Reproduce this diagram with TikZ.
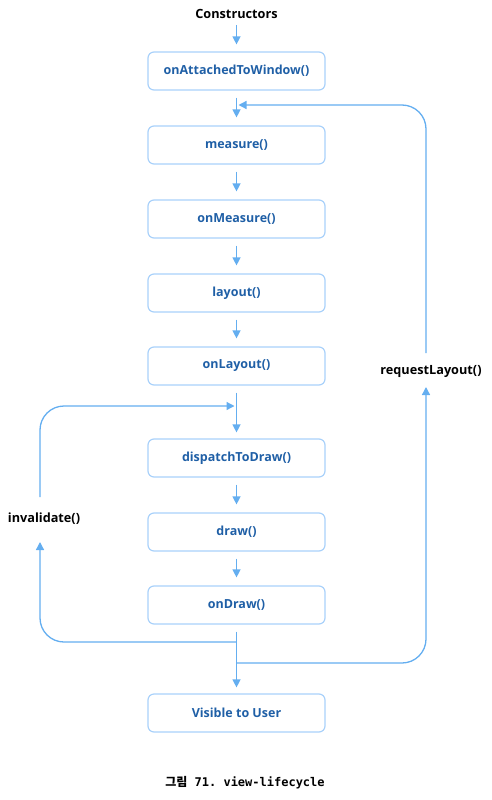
\documentclass[tikz,border=0pt]{standalone}
\usepackage{fontspec}
\setmainfont{Open Sans}
\newfontfamily\krfont{Noto Sans CJK KR}
\newfontfamily\capmono{DejaVu Sans Mono}
\usetikzlibrary{arrows.meta}

\definecolor{flowblue}{HTML}{64AEF0}
\definecolor{boxedge}{HTML}{A9D1FA}
\definecolor{boxtext}{HTML}{1F5FA6}

\tikzset{
  stepbox/.style={draw=boxedge, line width=1.2pt, rounded corners=6pt,
    minimum width=177pt, minimum height=38pt, inner sep=0pt,
    text=boxtext, font=\bfseries\fontsize{12.5}{14}\selectfont},
  sidelabel/.style={text=black, inner sep=0pt, font=\bfseries\fontsize{12.7}{14}\selectfont},
  flowline/.style={draw=flowblue, line width=1.3pt},
  flowarrow/.style={flowline, -{Triangle[length=8pt,width=8pt]}},
  loop/.style={flowarrow, rounded corners=24pt},
}

\begin{document}
\begin{tikzpicture}[x=1pt,y=-1pt]
\useasboundingbox (0,0) rectangle (492,800);

% lifecycle steps
\node[sidelabel] (ctor) at (236.5,14) {Constructors};
\node[stepbox] (attach)   at (236.5,71)  {onAttachedToWindow()};
\node[stepbox] (measure)  at (236.5,145) {measure()};
\node[stepbox] (onmeas)   at (236.5,219) {onMeasure()};
\node[stepbox] (layout)   at (236.5,293) {layout()};
\node[stepbox] (onlayout) at (236.5,366) {onLayout()};
\node[stepbox] (dispatch) at (236.5,458) {dispatchToDraw()};
\node[stepbox] (draw)     at (236.5,532) {draw()};
\node[stepbox] (ondraw)   at (236.5,605) {onDraw()};
\node[stepbox] (visible)  at (236.5,713) {Visible to User};

% loop labels
\node[sidelabel] (reqlayout) at (431,371) {requestLayout()};
\node[sidelabel] (invalid)   at (44,519)  {invalidate()};

% junctions on the main flow and ends of the loops
\coordinate (jq) at (236.5,105);
\coordinate (ji) at (236.5,406);
\coordinate (jl) at (236.5,642);
\coordinate (jr) at (236.5,663);
\coordinate (rqin)  at (426,387);
\coordinate (rqout) at (426,353);
\coordinate (ivin)  at (40,542);
\coordinate (ivout) at (40,497);

% main flow
\draw[flowarrow] ([yshift=-6pt]ctor.south) -- ([yshift=7pt]attach.north);
\draw[flowarrow] ([yshift=-7pt]attach.south) -- ([yshift=8pt]measure.north);
\draw[flowarrow] ([yshift=-7pt]measure.south) -- ([yshift=8pt]onmeas.north);
\draw[flowarrow] ([yshift=-7pt]onmeas.south) -- ([yshift=8pt]layout.north);
\draw[flowarrow] ([yshift=-7pt]layout.south) -- ([yshift=8pt]onlayout.north);
\draw[flowarrow] ([yshift=-7pt]onlayout.south) -- ([yshift=6pt]dispatch.north);
\draw[flowarrow] ([yshift=-7pt]dispatch.south) -- ([yshift=8pt]draw.north);
\draw[flowarrow] ([yshift=-7pt]draw.south) -- ([yshift=8pt]ondraw.north);
\draw[flowarrow] ([yshift=-7pt]ondraw.south) -- ([yshift=6pt]visible.north);

% requestLayout() loop
\draw[loop] (jr) -| (rqin);
\draw[loop] (rqout) |- ([xshift=2pt]jq);

% invalidate() loop
\draw[loop] (jl) -| (ivin);
\draw[loop] (ivout) |- ([xshift=-2pt]ji);

% caption
\node[inner sep=0pt, font=\bfseries\fontsize{12}{14}\selectfont] (caption) at (245,783)
  {\frenchspacing{\krfont 그림}\capmono\ 71.\ view-lifecycle};
\end{tikzpicture}
\end{document}
